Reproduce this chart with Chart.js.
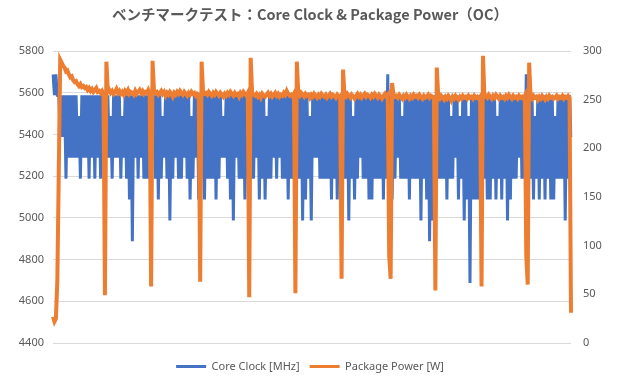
<!DOCTYPE html>
<html>
<head>
<meta charset="utf-8">
<script src="https://cdn.jsdelivr.net/npm/chart.js@4.4.1/dist/chart.umd.min.js"></script>
<style>
html,body{margin:0;padding:0;background:#fff;}
#wrap{width:620px;height:380px;}
</style>
</head>
<body>
<div id="wrap"><canvas id="c" width="620" height="380"></canvas></div>
<script>
const chartTitle = "ベンチマークテスト：Core Clock & Package Power（OC）";
const seriesNames = ["Core Clock [MHz]", "Package Power [W]"];
const clockTicks = [4400, 4600, 4800, 5000, 5200, 5400, 5600, 5800];
const powerTicks = [0, 50, 100, 150, 200, 250, 300];

const coreClock = [
5688,5588,5688,5588,5588,5388,5588,5388,5588,5188,
5588,5288,5588,5288,5588,5288,5588,5288,5488,5188,
5588,5288,5588,5288,5588,5188,5588,5288,5588,5188,
5588,5288,5588,5188,5588,5288,5588,5288,5588,5288,
5488,5188,5588,5288,5588,5288,5588,5188,5488,5288,
5588,5188,5588,5088,5588,4888,5588,5288,5588,5188,
5588,5288,5588,5188,5588,5188,5588,5188,5588,5288,
5588,5188,5588,5088,5588,5188,5488,5288,5588,5188,
5588,4988,5588,5188,5588,5288,5588,5188,5588,5188,
5588,5288,5588,5188,5588,5088,5488,5188,5588,5288,
5588,5088,5588,5188,5588,5088,5588,5188,5588,5188,
5588,5188,5588,5088,5588,5188,5588,5288,5488,5288,
5588,5188,5588,5088,5588,4988,5588,5288,5588,5188,
5588,5188,5588,5088,5588,5188,5588,5188,5588,5188,
5588,5288,5588,5088,5588,5188,5588,5088,5488,5188,
5588,5188,5588,5288,5588,5188,5588,5288,5588,5188,
5588,5188,5588,5088,5588,5188,5588,5188,5588,5188,
5588,5188,5588,4988,5588,5088,5588,5188,5488,4988,
5588,5288,5588,5288,5588,5188,5588,5188,5588,5188,
5588,5188,5588,5088,5588,5188,5588,5088,5588,5188,
5588,5188,5588,5188,5588,4988,5588,5188,5488,5088,
5588,5188,5588,5288,5588,5188,5588,5188,5588,5088,
5588,5088,5588,5188,5588,5188,5588,5188,5588,5088,
5588,5188,5688,5188,5588,5088,5588,5188,5588,5288,
5588,5188,5488,5188,5588,5188,5588,5088,5588,5188,
5588,5188,5588,5188,5588,4988,5588,5188,5588,5088,
5588,4888,5588,4988,5588,5088,5588,5188,5588,5188,
5588,5188,5588,5088,5588,5188,5488,5188,5588,5288,
5588,5088,5488,5188,5588,4988,5588,5088,5488,4688,
5588,5088,5588,5088,5588,5088,5588,5188,5588,5188,
5588,5088,5588,5088,5588,5188,5588,5088,5488,5188,
5588,5088,5588,5188,5588,4988,5588,5088,5588,5188,
5588,5188,5588,5288,5588,5188,5588,5188,5688,5188,
5588,5188,5588,5088,5488,5188,5588,5088,5588,5188,
5588,5088,5588,5188,5588,5088,5588,5088,5488,5188,
5588,5188,5588,5188,5588,4988,5588,5188,5588,5388
];

const packagePower = [
27,22,25,64,175,291,288,285,283,279,
280,276,273,274,270,268,269,266,264,266,
263,264,262,263,260,262,259,261,258,260,
262,258,259,257,259,256,49,289,258,260,
257,259,256,258,261,257,259,256,258,255,
259,257,260,256,258,257,255,259,256,258,
260,257,259,256,258,257,260,256,58,290,
259,257,258,255,257,259,256,258,254,257,
255,258,256,253,257,255,258,256,259,257,
255,258,256,254,257,255,258,256,257,254,
256,255,63,289,258,256,257,255,258,256,
254,257,255,258,256,254,257,255,253,256,
254,257,255,258,256,254,257,255,256,253,
257,255,258,256,254,257,47,293,257,255,
254,256,253,255,252,256,254,253,255,257,
254,256,253,255,257,254,256,253,255,254,
257,255,259,256,254,255,253,256,51,289,
256,254,257,255,253,256,254,255,252,255,
253,256,254,252,255,253,256,254,253,255,
252,254,256,253,255,254,252,255,253,254,
66,281,255,253,256,254,252,255,253,251,
254,256,253,255,252,254,256,253,255,254,
252,255,253,256,254,252,255,253,251,254,
256,253,255,90,66,267,255,253,254,252,
255,253,251,254,252,255,253,251,254,252,
255,253,254,252,255,253,251,254,252,253,
255,252,254,253,251,54,283,253,251,254,
252,250,253,251,254,252,249,253,251,254,
252,250,253,251,254,252,253,251,254,252,
253,251,254,252,253,251,253,58,295,253,
254,252,255,253,251,254,252,255,253,251,
254,252,253,251,254,252,255,253,251,254,
252,253,251,254,252,253,251,254,90,60,
288,253,251,254,252,253,250,253,251,254,
252,250,253,251,254,252,253,251,252,254,
251,253,252,254,251,253,252,254,252,31
];

const sampleLabels = coreClock.map((_, i) => String(i + 1));

const textColor = "#595959";
const gridColor = "#d9d9d9";
const blue = "#4472C4";
const orange = "#ED7D31";

const legendShift = {
  id: "legendShift",
  afterLayout(chart) {
    if (chart.legend) { chart.legend.top += 8; chart.legend.bottom += 8; }
  }
};

new Chart(document.getElementById("c"), {
  type: "line",
  data: {
    labels: sampleLabels,
    datasets: [
      { label: seriesNames[0], data: coreClock, yAxisID: "y", borderColor: blue, backgroundColor: blue,
        borderWidth: 3, pointRadius: 0, tension: 0, order: 1 },
      { label: seriesNames[1], data: packagePower, yAxisID: "y1", borderColor: orange, backgroundColor: orange,
        borderWidth: 4, pointRadius: 0, tension: 0, order: 0 }
    ]
  },
  plugins: [legendShift],
  options: {
    responsive: false,
    animation: false,
    devicePixelRatio: 1,
    layout: { padding: { left: 0, right: 0, top: 0, bottom: 6 } },
    plugins: {
      title: {
        display: true, text: chartTitle, color: textColor,
        font: { family: '"Noto Sans CJK JP", "Noto Sans", sans-serif', size: 14.5, weight: "bold", lineHeight: 1.2 },
        padding: { top: 6, bottom: 27.6 }
      },
      legend: {
        display: true, position: "bottom",
        labels: {
          color: textColor, boxWidth: 30, boxHeight: 3, padding: 10,
          font: { family: '"Noto Sans", sans-serif', size: 11 },
          sort: (a, b) => a.datasetIndex - b.datasetIndex,
          generateLabels: (chart) => chart.data.datasets.map((ds, i) => ({
            text: ds.label, fillStyle: ds.borderColor, strokeStyle: ds.borderColor,
            lineWidth: 0, hidden: false, datasetIndex: i, fontColor: textColor
          }))
        }
      },
      tooltip: { enabled: false }
    },
    scales: {
      x: { type: "category", display: false, offset: false },
      y: {
        position: "left", min: clockTicks[0], max: clockTicks[clockTicks.length - 1],
        afterBuildTicks: (s) => { s.ticks = clockTicks.map(v => ({ value: v })); },
        afterFit: (s) => { s.width = 53; },
        grid: { color: gridColor, drawTicks: false, lineWidth: 1 },
        border: { display: false },
        ticks: { color: textColor, padding: 9, font: { family: '"Noto Sans", sans-serif', size: 11 },
                 callback: (v) => String(v) }
      },
      y1: {
        position: "right", min: powerTicks[0], max: powerTicks[powerTicks.length - 1],
        afterBuildTicks: (s) => { s.ticks = powerTicks.map(v => ({ value: v })); },
        afterFit: (s) => { s.width = 49; },
        grid: { drawOnChartArea: false, drawTicks: false },
        border: { display: false },
        ticks: { color: textColor, padding: 12, font: { family: '"Noto Sans", sans-serif', size: 11 },
                 callback: (v) => String(v) }
      }
    }
  }
});
</script>
</body>
</html>
